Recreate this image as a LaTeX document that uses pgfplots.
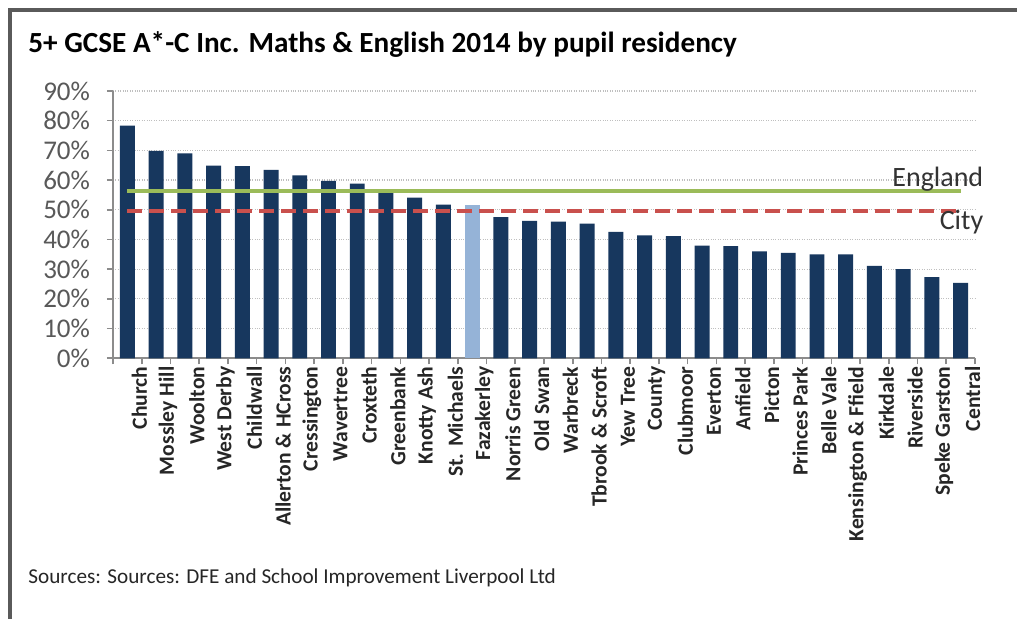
\documentclass[border=0pt]{standalone}
\usepackage{pgfplots}
\pgfplotsset{compat=1.18}
\usepackage{fontspec}
\setmainfont{Carlito}
\definecolor{navy}{HTML}{17375E}
\definecolor{lightbar}{HTML}{95B3D7}
\definecolor{eng}{HTML}{9BBB59}
\definecolor{city}{HTML}{C9504D}
\definecolor{tickgray}{HTML}{595959}
\definecolor{axgray}{HTML}{8C8C8C}
\definecolor{framegray}{HTML}{5A5A5A}
\begin{document}
\begin{tikzpicture}
\useasboundingbox (0pt,0pt) rectangle (508.5pt,309.5pt);
\fill[white] (0pt,0pt) rectangle (508.5pt,309.5pt);
\draw[framegray, line width=2pt] (5pt,0pt) -- (5pt,304.5pt) -- (508.5pt,304.5pt);
\node[anchor=west, inner sep=0pt, font=\fontsize{14.6}{16}\selectfont\bfseries] at (14pt,287pt) {5+ GCSE A*-C Inc. Maths \& English 2014 by pupil residency};
\node[anchor=west, inner sep=0pt, font=\fontsize{10.6}{12}\selectfont, text=black!85] at (14pt,20.5pt) {Sources: Sources: DFE and School Improvement Liverpool Ltd};
\begin{axis}[
  at={(56.5pt,130.35pt)}, anchor=south west,
  width=431pt, height=133.65pt, scale only axis,
  xmin=-0.5, xmax=29.5, ymin=0, ymax=90,
  axis x line=bottom, axis y line=left,
  axis line style={draw=axgray, line width=0.8pt, -},
  ytick={0,10,...,90},
  yticklabels={0\%,10\%,20\%,30\%,40\%,50\%,60\%,70\%,80\%,90\%},
  yticklabel style={font=\fontsize{13.5}{15}\selectfont, text=tickgray, xshift=-5pt},
  xtick={0,...,29},
  xticklabels={Church,Mossley Hill,Woolton,West Derby,Childwall,Allerton \& HCross,Cressington,Wavertree,Croxteth,Greenbank,Knotty Ash,St. Michaels,Fazakerley,Norris Green,Old Swan,Warbreck,Tbrook \& Scroft,Yew Tree,County,Clubmoor,Everton,Anfield,Picton,Princes Park,Belle Vale,Kensington \& Ffield,Kirkdale,Riverside,Speke Garston,Central},
  xticklabel style={rotate=90, anchor=east, font=\fontsize{10.8}{12}\selectfont\bfseries, text=black!85, inner sep=1pt},
  x tick label style={yshift=-6pt},
  minor xtick={-0.5,0.5,...,29.5},
  tick align=outside,
  major tick length=3pt, minor tick length=3pt,
  x tick style={draw=none},
  minor x tick style={draw=axgray, line width=0.8pt},
  y tick style={draw=axgray, line width=0.8pt},
  ymajorgrids,
  major grid style={draw=gray!50, line width=0.6pt, dash pattern=on 0.5pt off 0.7pt},
  clip=false,
]
\addplot[ybar, bar width=0.52, bar shift=0pt, fill=navy, draw=none] coordinates {
(0,78.3) (1,69.8) (2,69.0) (3,64.9) (4,64.7) (5,63.4) (6,61.6) (7,59.7) (8,58.8) (9,56.1)
(10,54.1) (11,51.7) (13,47.5) (14,46.3) (15,46.0) (16,45.3) (17,42.6) (18,41.4) (19,41.1)
(20,37.9) (21,37.8) (22,36.0) (23,35.5) (24,35.0) (25,35.0) (26,31.1) (27,30.0) (28,27.3) (29,25.4)
};
\addplot[ybar, bar width=0.52, bar shift=0pt, fill=lightbar, draw=none] coordinates {(12,51.7)};
\addplot[eng, line width=2pt, mark=none] coordinates {(0,56.4) (29,56.4)};
\addplot[city, line width=2pt, mark=none, dash pattern=on 7.5pt off 3.5pt] coordinates {(0,49.6) (29,49.6)};
\node[anchor=base east, font=\fontsize{14}{16}\selectfont, text=black!80, inner sep=0pt] at (axis cs:29.8,58.0) {England};
\node[anchor=base east, font=\fontsize{14}{16}\selectfont, text=black!80, inner sep=0pt] at (axis cs:29.8,43.2) {City};
\end{axis}
\end{tikzpicture}
\end{document}
